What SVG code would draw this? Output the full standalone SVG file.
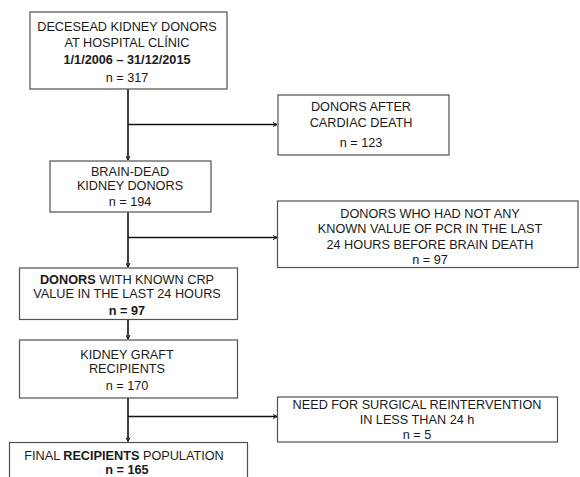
<svg xmlns="http://www.w3.org/2000/svg" width="580" height="477" viewBox="0 0 580 477">
<style>
.box{fill:#fff;stroke:#505050;stroke-width:1.2}
text{font-family:"Liberation Sans",Arial,sans-serif;font-size:12.7px;fill:#1a1a1a;text-anchor:middle}
.b{font-weight:bold}
.c{fill:none;stroke:#111;stroke-width:1.6}
</style>
<defs>
<marker id="ah" viewBox="0 0 10 10" refX="9" refY="5" markerWidth="5" markerHeight="5" orient="auto" markerUnits="userSpaceOnUse">
<path d="M1,1 L9,5 L1,9" fill="none" stroke="#111" stroke-width="2"/>
</marker>
</defs>
<rect width="580" height="477" fill="#fff"/>
<g id="connectors">
<path class="c" d="M128,89 V160" marker-end="url(#ah)"/>
<path class="c" d="M128,124.5 H277" marker-end="url(#ah)"/>
<path class="c" d="M128,212 V267" marker-end="url(#ah)"/>
<path class="c" d="M128,237.5 H277" marker-end="url(#ah)"/>
<path class="c" d="M128,319 V339" marker-end="url(#ah)"/>
<path class="c" d="M128,398 V441.5" marker-end="url(#ah)"/>
<path class="c" d="M128,416.5 H277" marker-end="url(#ah)"/>
</g>
<g id="n1">
<rect class="box" x="30" y="12" width="197" height="77"/>
<text x="127" y="30.5">DECESEAD KIDNEY DONORS</text>
<text x="127" y="46.5">AT HOSPITAL CLÍNIC</text>
<text x="127" y="63.5" class="b">1/1/2006 – 31/12/2015</text>
<text x="127" y="81.5">n = 317</text>
</g>
<g id="n2">
<rect class="box" x="278" y="95" width="171" height="60"/>
<text x="361" y="111">DONORS AFTER</text>
<text x="361" y="126.5">CARDIAC DEATH</text>
<text x="361" y="146.5">n = 123</text>
</g>
<g id="n3">
<rect class="box" x="50" y="161" width="161" height="51"/>
<text x="130" y="175.5">BRAIN-DEAD</text>
<text x="130" y="190">KIDNEY DONORS</text>
<text x="130" y="205.5">n = 194</text>
</g>
<g id="n4">
<rect class="box" x="277.5" y="201" width="300.5" height="66.5"/>
<text x="430" y="217.5">DONORS WHO HAD NOT ANY</text>
<text x="430" y="232.5">KNOWN VALUE OF PCR IN THE LAST</text>
<text x="430" y="248.5">24 HOURS BEFORE BRAIN DEATH</text>
<text x="430" y="263.5">n = 97</text>
</g>
<g id="n5">
<rect class="box" x="19.5" y="268" width="218" height="51.5"/>
<text x="127" y="283.5"><tspan class="b">DONORS</tspan> WITH KNOWN CRP</text>
<text x="127" y="297.5">VALUE IN THE LAST 24 HOURS</text>
<text x="127" y="314.5" class="b">n = 97</text>
</g>
<g id="n6">
<rect class="box" x="19.5" y="340" width="218" height="58"/>
<text x="127" y="358.5">KIDNEY GRAFT</text>
<text x="127" y="372.5">RECIPIENTS</text>
<text x="127" y="389.5">n  = 170</text>
</g>
<g id="n7">
<rect class="box" x="277.5" y="397" width="280" height="45"/>
<text x="417" y="408.5">NEED FOR SURGICAL REINTERVENTION</text>
<text x="417" y="424">IN LESS THAN 24 h</text>
<text x="417" y="439">n = 5</text>
</g>
<g id="n8">
<rect class="box" x="9.5" y="442.5" width="238" height="40"/>
<text x="124" y="459.5">FINAL <tspan class="b">RECIPIENTS</tspan> POPULATION</text>
<text x="127" y="473.5" class="b">n  = 165</text>
</g>
</svg>
